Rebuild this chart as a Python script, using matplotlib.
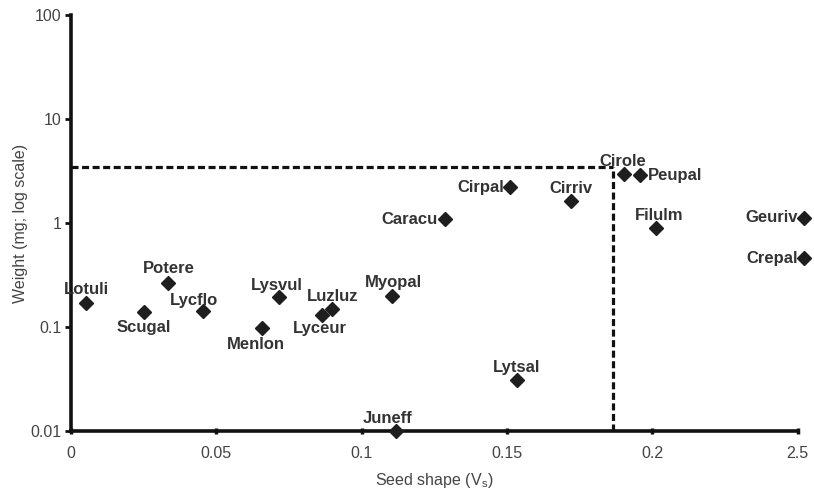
import matplotlib
matplotlib.use("Agg")
import matplotlib.pyplot as plt
import numpy as np

plt.rcParams['font.family'] = ['Liberation Sans', 'DejaVu Sans']
plt.rcParams['mathtext.fontset'] = 'custom'
plt.rcParams['mathtext.rm'] = 'Liberation Sans'

# ---- data ----
species = ["Lotuli", "Scugal", "Potere", "Lycflo", "Menlon", "Lysvul", "Lyceur",
           "Luzluz", "Myopal", "Juneff", "Caracu", "Cirpal", "Lytsal", "Cirriv",
           "Cirole", "Peupal", "Filulm", "Geuriv", "Crepal"]
seed_shape = [0.0052, 0.025, 0.0335, 0.0455, 0.0658, 0.0715, 0.0863,
              0.0897, 0.1106, 0.1118, 0.1286, 0.151, 0.1534, 0.172,
              0.1903, 0.1956, 0.2013, 0.2523, 0.252]
weight = [0.169, 0.139, 0.267, 0.142, 0.097, 0.193, 0.130,
          0.149, 0.199, 0.010, 1.09, 2.23, 0.031, 1.63,
          2.96, 2.91, 0.89, 1.11, 0.464]
x_ticks = [0, 0.05, 0.1, 0.15, 0.2, 0.25]
x_tick_labels = ["0", "0.05", "0.1", "0.15", "0.2", "2.5"]
y_ticks = [0.01, 0.1, 1, 10, 100]
y_tick_labels = ["0.01", "0.1", "1", "10", "100"]
threshold_shape = 0.1865
threshold_weight = 3.48

# label placement (pixel offsets, ha)
label_place = {
    "Lotuli": (0, 14, 'center'), "Scugal": (0, -15, 'center'),
    "Potere": (0, 14, 'center'), "Lycflo": (-9, 11, 'center'),
    "Menlon": (-6, -16, 'center'), "Lysvul": (-2, 12, 'center'),
    "Lyceur": (-2, -13, 'center'), "Luzluz": (1, 12, 'center'),
    "Myopal": (1, 13, 'center'), "Juneff": (-8, 12, 'center'),
    "Caracu": (-7, 0, 'right'), "Cirpal": (-6, -1, 'right'),
    "Lytsal": (0, 12, 'center'), "Cirriv": (0, 12, 'center'),
    "Cirole": (-1, 12, 'center'), "Peupal": (8, -1, 'left'),
    "Filulm": (3, 13, 'center'), "Geuriv": (-7, 1, 'right'),
    "Crepal": (-6, -1, 'right'),
}

fig = plt.figure(figsize=(8.14, 4.95), dpi=100)
ax = fig.add_axes([0.0872, 0.1293, 0.980 - 0.0872, 0.9697 - 0.1293])
ax.set_yscale('log')
ax.set_xlim(0, 0.25)
ax.set_ylim(0.01, 100)

ax.plot([0, threshold_shape], [threshold_weight, threshold_weight],
        color='#111111', lw=2.3, ls=(0, (2.2, 1.1)), zorder=1)
ax.plot([threshold_shape, threshold_shape], [0.01, threshold_weight],
        color='#111111', lw=2.3, ls=(0, (2.2, 1.1)), zorder=1)

ax.plot(seed_shape, weight, ls='none', marker='D', markersize=7,
        color='#1e1e1e', clip_on=False, zorder=3)

for name, xv, yv in zip(species, seed_shape, weight):
    dx, dy, ha = label_place[name]
    ax.annotate(name, (xv, yv), xytext=(dx * 0.72, dy * 0.72),
                textcoords='offset points', ha=ha, va='center',
                fontsize=12, fontweight='bold', color='#333333',
                annotation_clip=False, zorder=4)

for s in ['top', 'right']:
    ax.spines[s].set_visible(False)
for s in ['left', 'bottom']:
    ax.spines[s].set_linewidth(2.6)
    ax.spines[s].set_color('#111111')

ax.set_xticks(x_ticks)
ax.set_xticklabels(x_tick_labels)
ax.set_yticks(y_ticks)
ax.set_yticklabels(y_tick_labels)
ax.yaxis.set_minor_locator(matplotlib.ticker.NullLocator())
ax.tick_params(axis='x', direction='inout', length=4, width=2.5, color='#111111',
               labelsize=11.5, labelcolor='#444444', pad=9)
ax.tick_params(axis='y', direction='out', length=4, width=2.0, color='#111111',
               labelsize=11.5, labelcolor='#444444', pad=3)

ax.set_xlabel('Seed shape (V$_\\mathrm{s}$)', fontsize=11.5, color='#444444', labelpad=7)
ax.set_ylabel('Weight (mg; log scale)', fontsize=11.5, color='#444444',
              va='center')
ax.yaxis.set_label_coords(-0.070, 0.5)

fig.savefig('out.png', dpi=100)
